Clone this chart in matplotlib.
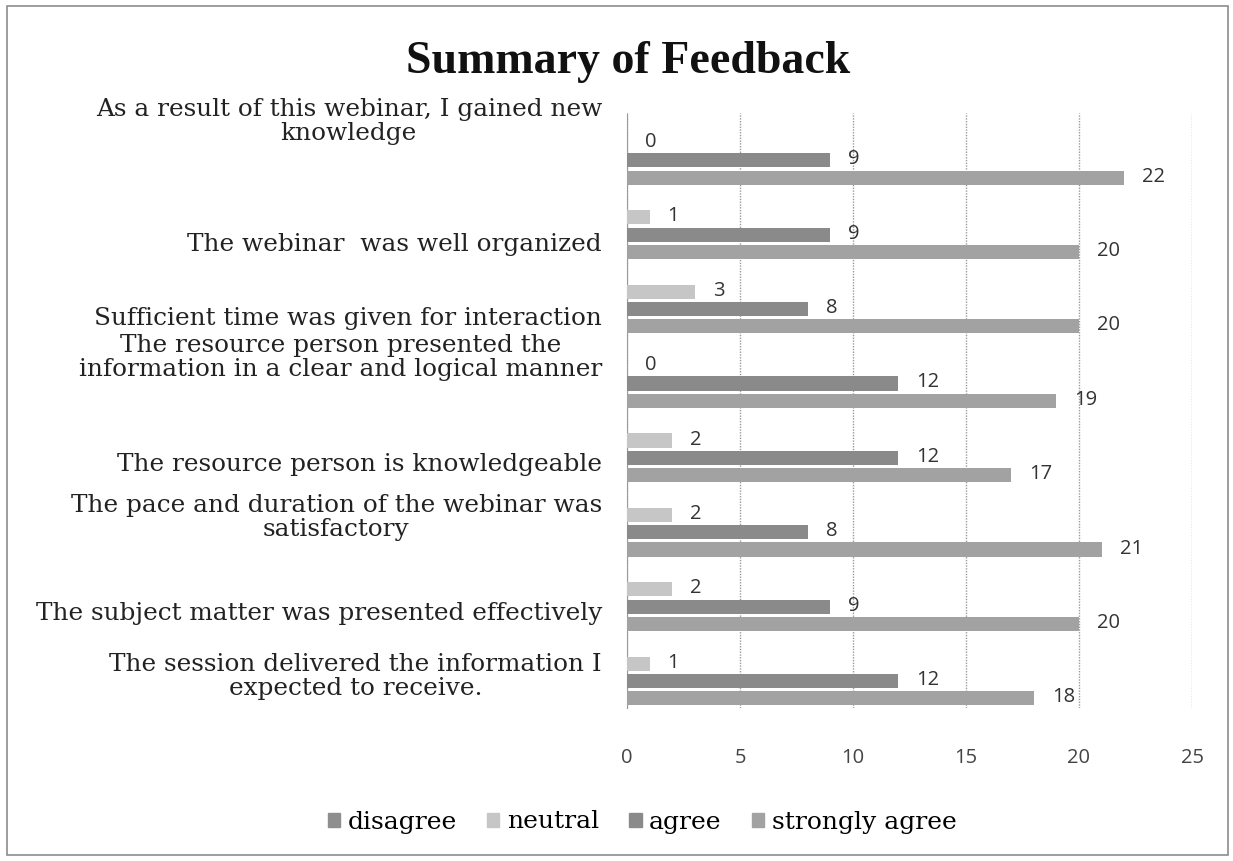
import matplotlib
matplotlib.use("Agg")
import matplotlib.pyplot as plt
import matplotlib.transforms as mtransforms
from matplotlib.patches import Rectangle
import numpy as np

categories = [
    "As a result of this webinar, I gained new\nknowledge",
    "The webinar  was well organized",
    "Sufficient time was given for interaction",
    "The resource person presented the\ninformation in a clear and logical manner",
    "The resource person is knowledgeable",
    "The pace and duration of the webinar was\nsatisfactory",
    "The subject matter was presented effectively",
    "The session delivered the information I\nexpected to receive.",
]
series_names = ["disagree", "neutral", "agree", "strongly agree"]
disagree = [0, 0, 0, 0, 0, 0, 0, 0]
neutral = [0, 1, 3, 0, 2, 2, 2, 1]
agree = [9, 9, 8, 12, 12, 8, 9, 12]
strongly_agree = [22, 20, 20, 19, 17, 21, 20, 18]
x_ticks = [0, 5, 10, 15, 20, 25]

# layout (label vertical positions in category units, as in the original scan)
label_y = [-0.39, 1.27, 2.26, 2.79, 4.23, 4.94, 6.23, 7.08]
colors = ["#8e8e8e", "#c6c6c6", "#8a8a8a", "#a2a2a2"]
show_labels = [False, True, True, True]

W, H = 1233, 861
fig = plt.figure(figsize=(W / 100, H / 100), dpi=100)
fig.patch.set_facecolor("white")
fig.patches.append(Rectangle((7 / W, 6 / H), 1221 / W, 849 / H, transform=fig.transFigure,
                             fill=False, edgecolor="#8c8c8c", linewidth=1.2))

ax = fig.add_axes([627 / W, 1 - 708 / H, 565 / W, 595 / H])
serif = "DejaVu Serif"
sans = "Open Sans"

y = np.arange(len(categories))
pitch = 0.233
height = 0.19
data = [disagree, neutral, agree, strongly_agree]
for j, (name, vals) in enumerate(zip(series_names, data)):
    pos = y + (j - 1.5) * pitch + 0.02
    bars = ax.barh(pos, vals, height=height, color=colors[j], label=name, zorder=3)
    if show_labels[j]:
        for b, v in zip(bars, vals):
            ax.annotate(str(v), (b.get_width(), b.get_y() + b.get_height() / 2),
                        xytext=(18, 1), textcoords="offset pixels", ha="left", va="center",
                        fontsize=14.5, family=sans, color="#333333", zorder=4)

ax.set_xlim(0, 25)
ax.set_ylim(len(categories) - 0.5, -0.5)
ax.set_xticks(x_ticks)
ax.set_xticklabels([str(t) for t in x_ticks], family=sans, fontsize=14.5, color="#444444")
ax.tick_params(axis="x", length=0, pad=29)
ax.set_yticks([])
for s in ["top", "right", "bottom"]:
    ax.spines[s].set_visible(False)
ax.spines["left"].set_color("#9a9a9a")
ax.spines["left"].set_linestyle((0, (1, 1)))
ax.grid(axis="x", color="#9a9a9a", linestyle=(0, (1, 1)), linewidth=1, zorder=0)

trans = mtransforms.blended_transform_factory(fig.transFigure, ax.transData)
for lab, ly in zip(categories, label_y):
    fig.text(602 / W, ly, lab, transform=trans, ha="right", va="center",
             multialignment="center", family=serif, fontsize=17.8, color="#222222",
             linespacing=1.05)

fig.text(628 / W, 1 - 62 / H, "Summary of Feedback", ha="center", va="center",
         family="Liberation Serif", fontsize=33, fontweight="bold", color="#111111")

handles = [Rectangle((0, 0), 1, 1, color=c) for c in colors]
leg = fig.legend(handles, series_names, loc="center", bbox_to_anchor=(642 / W, 1 - 822 / H),
                 ncol=4, frameon=False, prop={"family": serif, "size": 18},
                 handlelength=0.5, handleheight=0.5, handletextpad=0.3, columnspacing=1.2)

fig.savefig("out.png", dpi=100)
